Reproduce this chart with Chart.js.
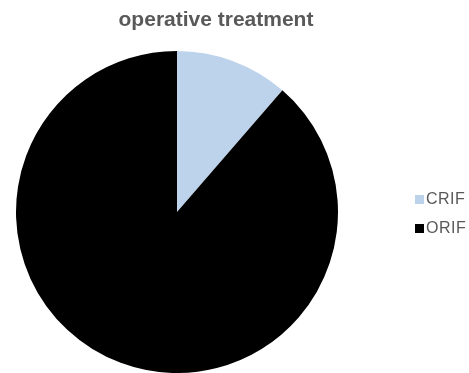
<!DOCTYPE html>
<html>
<head>
<meta charset="utf-8">
<script src="https://cdn.jsdelivr.net/npm/chart.js@4/dist/chart.umd.min.js"></script>
<style>
  body { margin: 0; background: #fff; font-family: "Liberation Sans", Arial, sans-serif; }
  #wrap { position: relative; width: 469px; height: 373px; }
  #title { position: absolute; left: 0; width: 432px; top: 7px; text-align: center;
           font-weight: bold; font-size: 21px; line-height: 24px; color: #595959; }
  #legend { position: absolute; left: 415px; top: 190px; font-size: 16px; color: #595959; }
  #legend div { height: 29px; line-height: 18px; white-space: nowrap; letter-spacing: 0.5px; }
  #legend span { display: inline-block; width: 9px; height: 9px; margin-right: 2px; vertical-align: 0px; }
</style>
</head>
<body>
<div id="wrap">
  <canvas id="pie-treatment" width="469" height="373"></canvas>
  <div id="title">operative treatment</div>
  <div id="legend"></div>
</div>
<script>
var categories = ['CRIF', 'ORIF'];
var patients = [5, 39];
var sliceColors = ['#bdd3ec', '#000000'];

// html legend, the chart's own legend can't sit that far from the pie
var legendBox = document.getElementById('legend');
categories.forEach(function (name, i) {
    var row = document.createElement('div');
    row.innerHTML = '<span style="background:' + sliceColors[i] + '"></span>' + name;
    legendBox.appendChild(row);
});

var pieContext = document.getElementById('pie-treatment').getContext('2d');

var pieChart = new Chart(pieContext, {
    type: 'pie',
    data: {
        labels: categories,
        datasets: [{
            backgroundColor: sliceColors,
            borderWidth: 0,
            data: patients
        }]
    },
    options: {
        responsive: false,
        animation: false,
        layout: {
            padding: { top: 51, right: 115, bottom: 0, left: 0 }
        },
        plugins: {
            legend: { display: false },
            title: { display: false },
            tooltip: { enabled: false }
        }
    }
});
</script>
</body>
</html>
